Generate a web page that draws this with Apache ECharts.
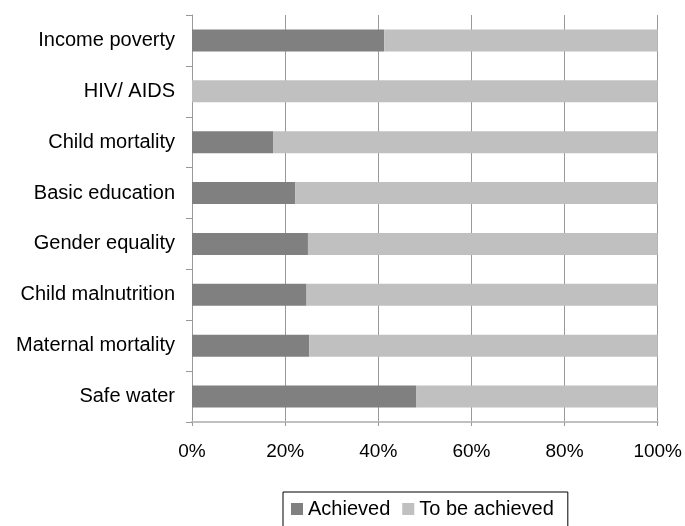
<!DOCTYPE html>
<html>
<head>
<meta charset="utf-8">
<script src="https://cdn.jsdelivr.net/npm/echarts@6/dist/echarts.min.js"></script>
<style>
  html, body { margin: 0; padding: 0; background: #fff; }
  #chart { width: 685px; height: 526px; }
</style>
</head>
<body>
<div id="chart"></div>
<script>
// goals, listed top to bottom
const goals = ['Income poverty', 'HIV/ AIDS', 'Child mortality', 'Basic education',
  'Gender equality', 'Child malnutrition', 'Maternal mortality', 'Safe water'];
// share achieved (%)
const achieved = [41.3, 0, 17.4, 22.2, 24.9, 24.6, 25.2, 48.2];
// share still to be achieved (%)
const toBeAchieved = [58.7, 100, 82.6, 77.8, 75.1, 75.4, 74.8, 51.8];
const xTicks = [0, 20, 40, 60, 80, 100];

const font = 'Liberation Sans, Arial, sans-serif';
let myChart = echarts.init(document.getElementById('chart'));
myChart.setOption({
  animation: false,
  textStyle: { fontFamily: font },
  grid: { left: 192, right: 25, top: 15, bottom: 104 },
  legend: {
    top: 492,
    left: 283,
    icon: 'rect',
    itemWidth: 12,
    itemHeight: 12,
    itemGap: 12,
    borderColor: '#000',
    borderWidth: 1,
    borderRadius: 0,
    padding: [7, 14, 12, 8],
    textStyle: { fontSize: 20, color: '#000', fontFamily: font },
    data: ['Achieved', 'To be achieved']
  },
  xAxis: {
    type: 'value',
    min: xTicks[0],
    max: xTicks[xTicks.length - 1],
    interval: 20,
    axisLine: { show: true, lineStyle: { color: '#c0c0c0', width: 2 } },
    axisTick: { show: true, length: 4, lineStyle: { color: '#999' } },
    axisLabel: { formatter: '{value}%', fontSize: 19, color: '#000', margin: 20, fontFamily: font },
    splitLine: { show: true, lineStyle: { color: '#999', width: 1 } }
  },
  yAxis: {
    type: 'category',
    inverse: true,
    data: goals,
    axisLine: { show: true, lineStyle: { color: '#999' } },
    axisTick: { show: true, length: 6, lineStyle: { color: '#999' } },
    axisLabel: { fontSize: 20, color: '#000', margin: 17, fontFamily: font }
  },
  series: [
    {
      name: 'Achieved',
      type: 'bar',
      stack: 'total',
      barWidth: 22,
      itemStyle: { color: '#808080' },
      data: achieved
    },
    {
      name: 'To be achieved',
      type: 'bar',
      stack: 'total',
      barWidth: 22,
      itemStyle: { color: '#c0c0c0' },
      data: toBeAchieved
    }
  ]
});
</script>
</body>
</html>
